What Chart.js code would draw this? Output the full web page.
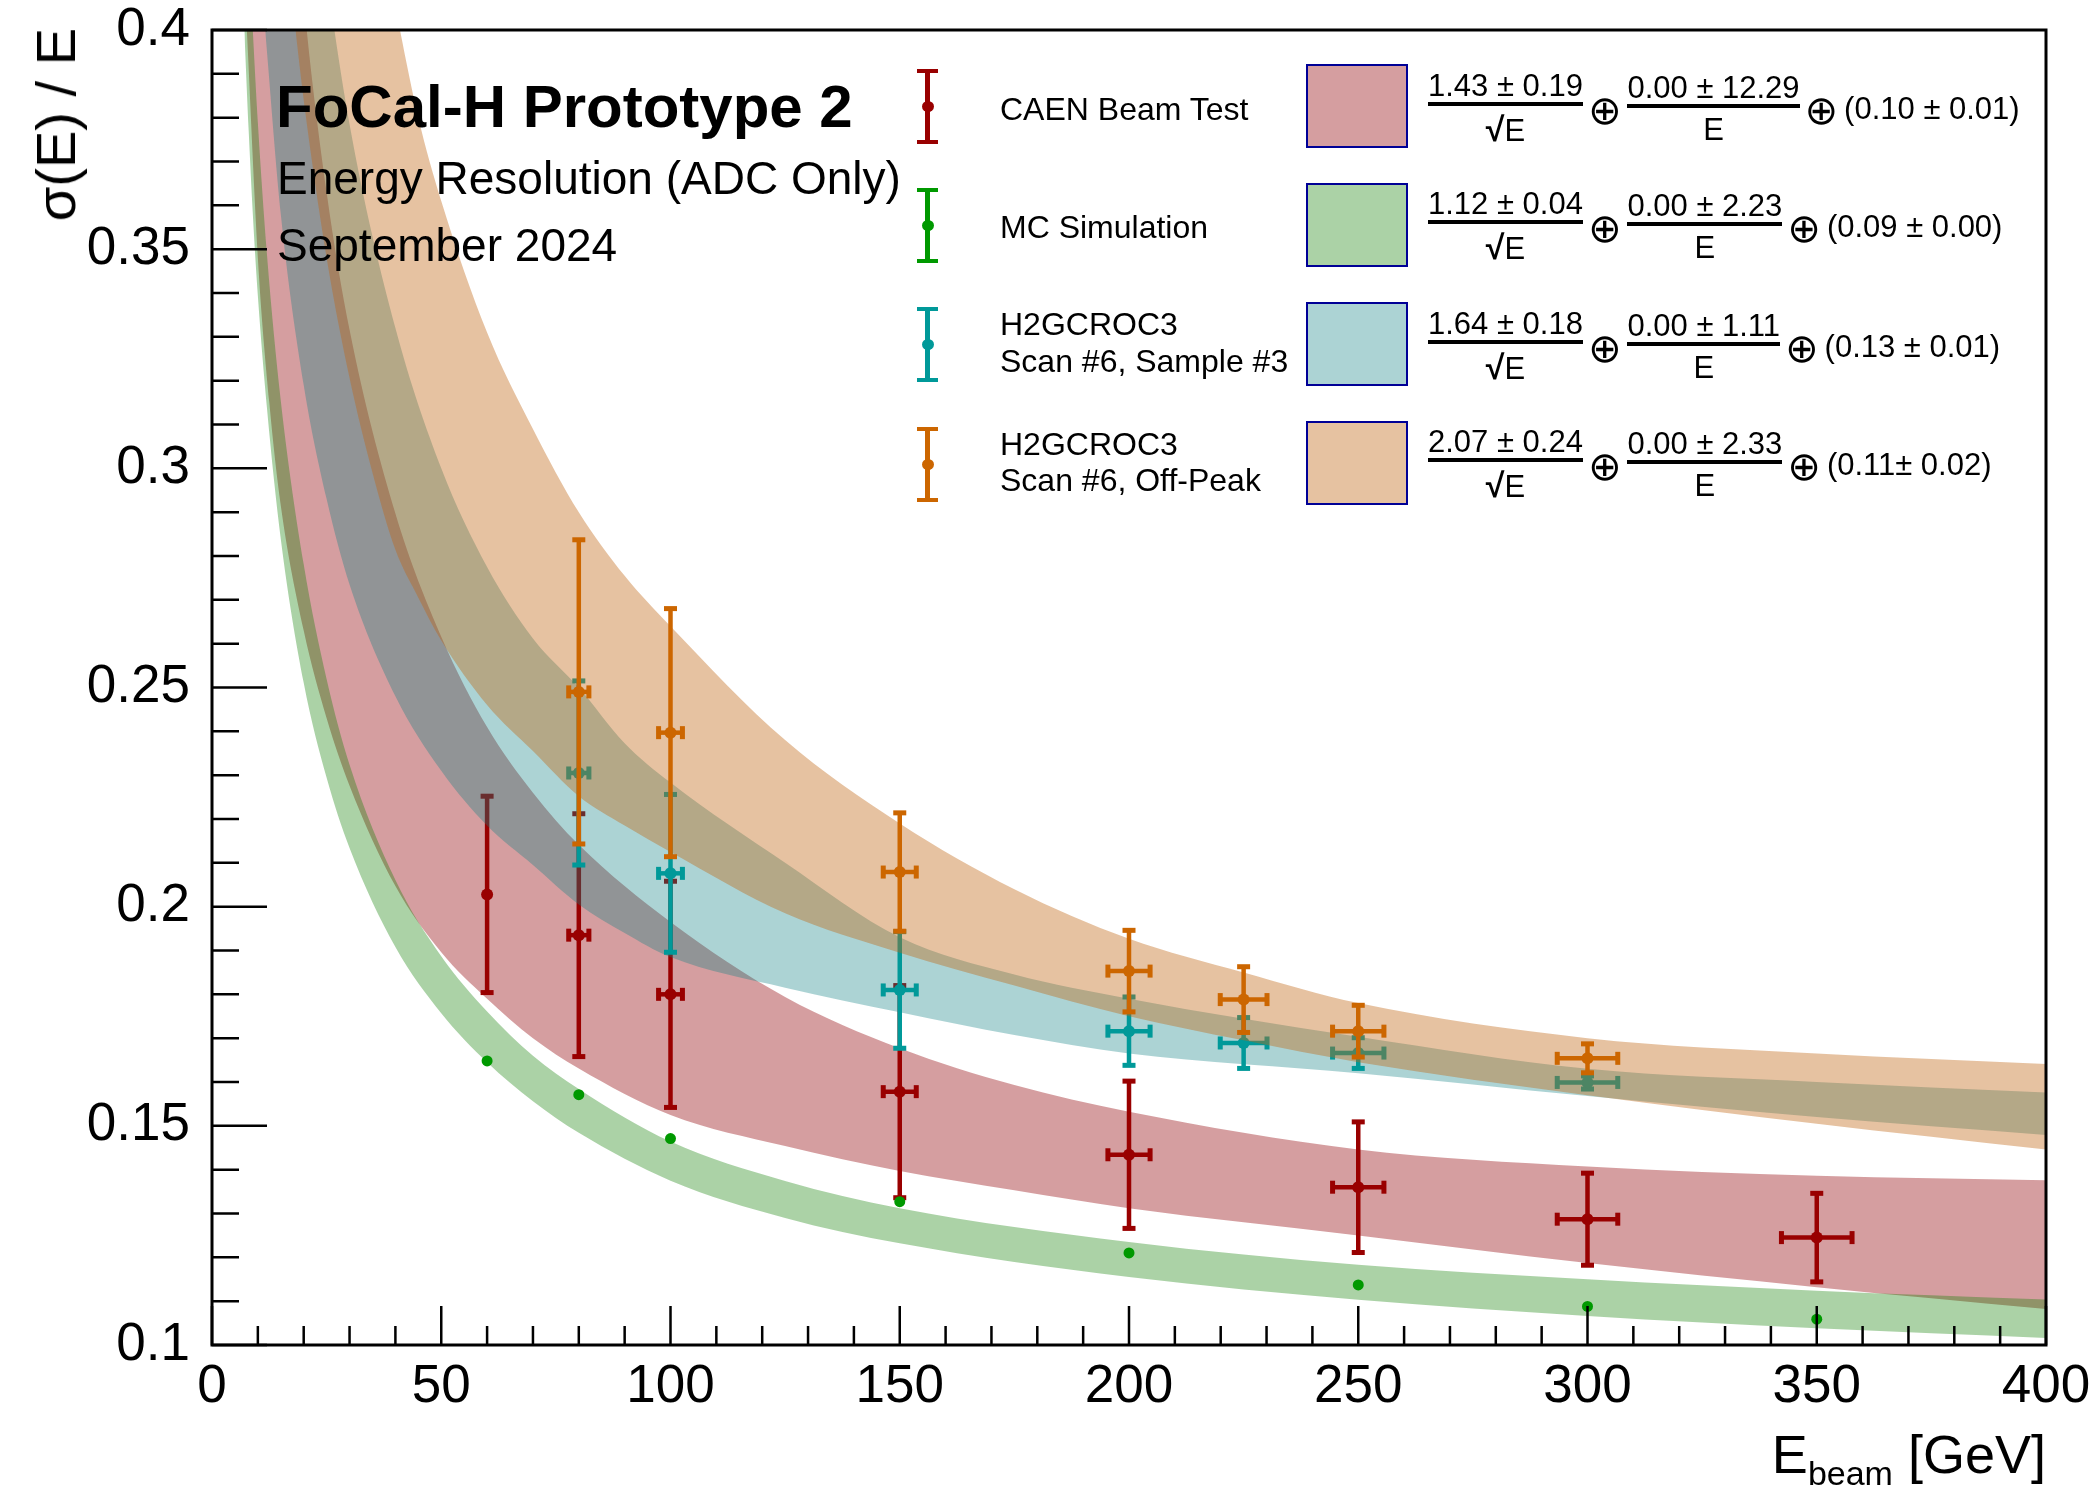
<!DOCTYPE html>
<html>
<head>
<meta charset="utf-8">
<title>FoCal-H Prototype 2 - Energy Resolution</title>
<script src="https://cdn.jsdelivr.net/npm/chart.js@4.4.1/dist/chart.umd.min.js"></script>
<style>
  body { margin: 0; background: #fff; }
  #wrap { position: relative; width: 2100px; height: 1489px; overflow: hidden;
          font-family: 'Liberation Sans', Arial, Helvetica, sans-serif; color: #000; }
  #chart { position: absolute; left: 0; top: 0; }
  .txt { position: absolute; white-space: nowrap; line-height: 1; }
  .ytitle { position: absolute; left: 28px; top: 28px; font-size: 56px; line-height: 1;
            writing-mode: vertical-rl; transform: rotate(180deg); white-space: nowrap; }
  .mark { position: absolute; width: 21px; height: 75px; }
  .mark .bar { position: absolute; left: 8px; top: 0; width: 5px; height: 75px; }
  .mark .cap { position: absolute; left: 0; width: 21px; height: 4px; }
  .mark .dot { position: absolute; left: 4.5px; top: 32px; width: 12px; height: 11px; border-radius: 50%; }
  .swatch { position: absolute; left: 1306px; width: 98px; height: 80px; border: 2.5px solid #000096; }
  .formula { position: absolute; left: 1428px; display: flex; align-items: center;
             font-size: 31px; line-height: 1; white-space: nowrap; }
  .frac { display: inline-flex; flex-direction: column; align-items: center; }
  .frac .num { border-bottom: 4px solid #000; padding-bottom: 1px; }
  .frac .den { margin-top: 6px; }
  .root { font-weight: bold; font-size: 34px; }
  .oplus { font-family: 'DejaVu Sans', sans-serif; font-size: 40px; margin: 0 6px 0 5px; position: relative; top: 2px; }
</style>
</head>
<body>
<div id="wrap">
  <canvas id="chart" width="2100" height="1489"></canvas>

  <div class="txt" style="left:276px; top:77px; font-size:60px; font-weight:bold;">FoCal-H Prototype 2</div>
  <div class="txt" style="left:277px; top:155px; font-size:46px;">Energy Resolution (ADC Only)</div>
  <div class="txt" style="left:277px; top:222px; font-size:46px;">September 2024</div>

  <div class="ytitle">σ(E) / E</div>
  <div class="txt" style="right:54px; top:1427px; font-size:54px;">E<span style="font-size:34px; position:relative; top:12px;">beam</span> [GeV]</div>

  <!-- legend markers -->
  <div class="mark" style="left:917px; top:69px;"><div class="bar" style="background:#990000"></div><div class="cap" style="top:0;background:#990000"></div><div class="cap" style="bottom:0;background:#990000"></div><div class="dot" style="background:#990000"></div></div>
  <div class="mark" style="left:917px; top:188px;"><div class="bar" style="background:#009900"></div><div class="cap" style="top:0;background:#009900"></div><div class="cap" style="bottom:0;background:#009900"></div><div class="dot" style="background:#009900"></div></div>
  <div class="mark" style="left:917px; top:307px;"><div class="bar" style="background:#009999"></div><div class="cap" style="top:0;background:#009999"></div><div class="cap" style="bottom:0;background:#009999"></div><div class="dot" style="background:#009999"></div></div>
  <div class="mark" style="left:917px; top:427px;"><div class="bar" style="background:#cc6600"></div><div class="cap" style="top:0;background:#cc6600"></div><div class="cap" style="bottom:0;background:#cc6600"></div><div class="dot" style="background:#cc6600"></div></div>

  <div class="txt" style="left:1000px; top:93px; font-size:32px;">CAEN Beam Test</div>
  <div class="txt" style="left:1000px; top:211px; font-size:32px;">MC Simulation</div>
  <div class="txt" style="left:1000px; top:308px; font-size:32px;">H2GCROC3</div>
  <div class="txt" style="left:1000px; top:345px; font-size:32px;">Scan #6, Sample #3</div>
  <div class="txt" style="left:1000px; top:428px; font-size:32px;">H2GCROC3</div>
  <div class="txt" style="left:1000px; top:464px; font-size:32px;">Scan #6, Off-Peak</div>

  <div class="swatch" style="top:64px; background:rgba(150,12,17,0.4);"></div>
  <div class="swatch" style="top:183px; background:rgba(15,126,0,0.35);"></div>
  <div class="swatch" style="top:302px; background:rgba(18,129,132,0.35);"></div>
  <div class="swatch" style="top:421px; background:rgba(192,102,20,0.4);"></div>

  <div class="formula" style="top:70px;">
    <span class="frac"><span class="num">1.43 ± 0.19</span><span class="den"><span class="root">√</span>E</span></span>
    <span class="oplus">⊕</span>
    <span class="frac"><span class="num">0.00 ± 12.29</span><span class="den">E</span></span>
    <span class="oplus">⊕</span>
    <span>(0.10 ± 0.01)</span>
  </div>
  <div class="formula" style="top:188px;">
    <span class="frac"><span class="num">1.12 ± 0.04</span><span class="den"><span class="root">√</span>E</span></span>
    <span class="oplus">⊕</span>
    <span class="frac"><span class="num">0.00 ± 2.23</span><span class="den">E</span></span>
    <span class="oplus">⊕</span>
    <span>(0.09 ± 0.00)</span>
  </div>
  <div class="formula" style="top:308px;">
    <span class="frac"><span class="num">1.64 ± 0.18</span><span class="den"><span class="root">√</span>E</span></span>
    <span class="oplus">⊕</span>
    <span class="frac"><span class="num">0.00 ± 1.11</span><span class="den">E</span></span>
    <span class="oplus">⊕</span>
    <span>(0.13 ± 0.01)</span>
  </div>
  <div class="formula" style="top:426px;">
    <span class="frac"><span class="num">2.07 ± 0.24</span><span class="den"><span class="root">√</span>E</span></span>
    <span class="oplus">⊕</span>
    <span class="frac"><span class="num">0.00 ± 2.33</span><span class="den">E</span></span>
    <span class="oplus">⊕</span>
    <span>(0.11± 0.02)</span>
  </div>
</div>

<script>
const FONT = "'Liberation Sans', Arial, Helvetica, sans-serif";

const xTickLabels = ['0', '50', '100', '150', '200', '250', '300', '350', '400'];
const yTickLabels = ['0.1', '0.15', '0.2', '0.25', '0.3', '0.35', '0.4'];

// measured points (E in GeV, sigma/E)
const caenE = [60, 80, 100, 150, 200, 250, 300, 350];
const caenRes = [0.2028, 0.1935, 0.1800, 0.1578, 0.1434, 0.1360, 0.1287, 0.1245];
const caenResErr = [0.0224, 0.0277, 0.0258, 0.0242, 0.0168, 0.0149, 0.0105, 0.0101];
const caenEErr = [0, 2.2, 2.6, 3.6, 4.6, 5.6, 6.6, 7.7];

const mcE = [60, 80, 100, 150, 200, 250, 300, 350];
const mcRes = [0.1648, 0.1571, 0.1471, 0.1327, 0.1210, 0.1137, 0.1088, 0.1059];

const sampleE = [80, 100, 150, 200, 225, 250, 300];
const sampleRes = [0.2305, 0.2076, 0.1810, 0.1716, 0.1689, 0.1666, 0.1599];
const sampleResErr = [0.0210, 0.0180, 0.0133, 0.0078, 0.0058, 0.0035, 0.0015];
const sampleEErr = [2.2, 2.6, 3.6, 4.6, 5.1, 5.6, 6.6];

const offPeakE = [80, 100, 150, 200, 225, 250, 300];
const offPeakRes = [0.2490, 0.2397, 0.2079, 0.1853, 0.1788, 0.1716, 0.1654];
const offPeakResErr = [0.0347, 0.0283, 0.0135, 0.0093, 0.0075, 0.0059, 0.0033];
const offPeakEErr = [2.2, 2.6, 3.6, 4.6, 5.1, 5.6, 6.6];

// fit bands, lower and upper edge
const caenBandE = [7.6, 10, 12.5, 15, 20, 25, 30, 40, 50, 60, 70, 80, 100, 125, 150, 175, 200, 250, 300, 350, 400];
const caenBandLow = [0.400, 0.348, 0.315, 0.2915, 0.263, 0.243, 0.2276, 0.2047, 0.1896, 0.179, 0.170, 0.1631, 0.1525, 0.1454, 0.1397, 0.1353, 0.1312, 0.125, 0.1187, 0.1132, 0.1082];
const caenBandHigh = [0.656, 0.578, 0.519, 0.4735, 0.407, 0.363, 0.3316, 0.2897, 0.2616, 0.241, 0.226, 0.2141, 0.1965, 0.1794, 0.1677, 0.1593, 0.1532, 0.1446, 0.1407, 0.1386, 0.1376];

const mcBandE = [7.05, 8, 8.9, 10, 12, 15, 20, 25, 30, 40, 50, 60, 70, 80, 100, 125, 150, 200, 250, 300, 350, 400];
const mcBandLow = [0.400, 0.377, 0.358, 0.3394, 0.3136, 0.2839, 0.2511, 0.2294, 0.2134, 0.1908, 0.1757, 0.1645, 0.1556, 0.1484, 0.1375, 0.1290, 0.1232, 0.1155, 0.1103, 0.1066, 0.1038, 0.1016];
const mcBandHigh = [0.445, 0.420, 0.400, 0.3789, 0.3486, 0.3154, 0.2781, 0.2519, 0.2324, 0.2061, 0.1887, 0.1761, 0.1660, 0.1584, 0.1464, 0.1374, 0.1312, 0.1235, 0.1183, 0.1150, 0.1124, 0.1104];

const sampleBandE = [11.6, 15, 20, 25, 30, 40, 50, 60, 70, 80, 90, 100, 125, 150, 175, 200, 250, 300, 350, 400];
const sampleBandLow = [0.400, 0.358, 0.319, 0.293, 0.2735, 0.248, 0.231, 0.2185, 0.2095, 0.2005, 0.194, 0.1885, 0.1815, 0.1759, 0.1707, 0.1665, 0.162, 0.1568, 0.152, 0.1479];
const sampleBandHigh = [0.598, 0.528, 0.459, 0.413, 0.3785, 0.332, 0.300, 0.2775, 0.2612, 0.250, 0.2373, 0.2283, 0.210, 0.193, 0.1845, 0.179, 0.1703, 0.163, 0.160, 0.1576];

const offPeakBandE = [18.2, 20, 25, 30, 35, 40, 45, 50, 60, 70, 80, 90, 100, 125, 150, 175, 200, 225, 250, 300, 350, 400];
const offPeakBandLow = [0.400, 0.384, 0.348, 0.3206, 0.299, 0.2814, 0.2705, 0.2607, 0.246, 0.2355, 0.2252, 0.2185, 0.2125, 0.1985, 0.1895, 0.182, 0.175, 0.1695, 0.1645, 0.157, 0.1505, 0.1446];
const offPeakBandHigh = [0.595, 0.568, 0.508, 0.4666, 0.4328, 0.4053, 0.380, 0.361, 0.331, 0.309, 0.290, 0.2755, 0.264, 0.238, 0.219, 0.204, 0.1927, 0.185, 0.178, 0.170, 0.1665, 0.1641];

const toXY = (xs, ys) => xs.map((x, i) => ({ x, y: ys[i] }));

const datasets = [];

function addBand(es, lo, hi, fillColor, order) {
    const common = {
        borderWidth: 0,
        borderColor: 'rgba(0,0,0,0)',
        pointRadius: 0,
        cubicInterpolationMode: 'monotone',
        capBezierPoints: false,
    };
    datasets.push({ ...common, data: toXY(es, lo), fill: false, order: order + 1 });
    datasets.push({ ...common, data: toXY(es, hi), fill: '-1', backgroundColor: fillColor, order });
}

function addPoints(es, res, resErr, eErr, color, radius, order) {
    datasets.push({
        data: toXY(es, res),
        showLine: false,
        pointRadius: radius,
        pointBorderWidth: 0,
        pointBackgroundColor: color,
        barColor: color,
        errY: resErr,
        errX: eErr,
        order,
    });
}

// ROOT draw order: red, green, teal, orange (each band then its points)
addBand(caenBandE, caenBandLow, caenBandHigh, 'rgba(150,12,17,0.4)', 100);
addPoints(caenE, caenRes, caenResErr, caenEErr, '#990000', 6, 98);
addBand(mcBandE, mcBandLow, mcBandHigh, 'rgba(15,126,0,0.35)', 96);
addPoints(mcE, mcRes, null, null, '#009900', 5.5, 94);
addBand(sampleBandE, sampleBandLow, sampleBandHigh, 'rgba(18,129,132,0.35)', 92);
addPoints(sampleE, sampleRes, sampleResErr, sampleEErr, '#009999', 6, 90);
addBand(offPeakBandE, offPeakBandLow, offPeakBandHigh, 'rgba(192,102,20,0.4)', 88);
addPoints(offPeakE, offPeakRes, offPeakResErr, offPeakEErr, '#cc6600', 6, 86);

// error bars with end caps, drawn just before the markers of the same graph
const errorBars = {
    id: 'errorBars',
    beforeDatasetDraw(chart, args) {
        const ds = chart.data.datasets[args.index];
        if (!ds.errY) return;
        const { ctx, scales: { x, y } } = chart;
        ctx.save();
        ctx.strokeStyle = ds.barColor;
        ctx.fillStyle = ds.barColor;
        ctx.lineWidth = 4.5;
        ds.data.forEach((p, i) => {
            const px = x.getPixelForValue(p.x);
            const py = y.getPixelForValue(p.y);
            const ey = ds.errY[i];
            const ex = ds.errX[i];
            if (ey > 0) {
                const top = y.getPixelForValue(p.y + ey);
                const bot = y.getPixelForValue(p.y - ey);
                ctx.beginPath();
                ctx.moveTo(px, top);
                ctx.lineTo(px, bot);
                ctx.stroke();
                ctx.fillRect(px - 6.5, top - 2.5, 13, 5);
                ctx.fillRect(px - 6.5, bot - 2.5, 13, 5);
            }
            if (ex > 0) {
                const l = x.getPixelForValue(p.x - ex);
                const r = x.getPixelForValue(p.x + ex);
                ctx.beginPath();
                ctx.moveTo(l, py);
                ctx.lineTo(r, py);
                ctx.stroke();
                ctx.fillRect(l - 2.5, py - 6.5, 5, 13);
                ctx.fillRect(r - 2.5, py - 6.5, 5, 13);
            }
        });
        ctx.restore();
    }
};

// ROOT style frame with ticks pointing inwards
const rootFrame = {
    id: 'rootFrame',
    afterDraw(chart) {
        const { ctx, chartArea: a, scales: { x, y } } = chart;
        ctx.save();
        ctx.strokeStyle = '#000';
        ctx.lineWidth = 2.5;
        ctx.beginPath();
        for (let k = 0; k <= 40; k++) {
            const px = x.getPixelForValue(k * 10);
            const len = k % 5 === 0 ? 39 : 19;
            ctx.moveTo(px, a.bottom);
            ctx.lineTo(px, a.bottom - len);
        }
        for (let k = 10; k <= 40; k++) {
            const py = y.getPixelForValue(k / 100);
            const len = k % 5 === 0 ? 55 : 27;
            ctx.moveTo(a.left, py);
            ctx.lineTo(a.left + len, py);
        }
        ctx.stroke();
        ctx.lineWidth = 3;
        ctx.strokeRect(a.left, a.top, a.right - a.left, a.bottom - a.top);
        ctx.restore();
    }
};

new Chart(document.getElementById('chart'), {
    type: 'line',
    data: { datasets },
    options: {
        responsive: false,
        animation: false,
        devicePixelRatio: 1,
        events: [],
        layout: { padding: { left: 0, right: 54, top: 30, bottom: 0 } },
        plugins: { legend: { display: false }, tooltip: { enabled: false } },
        scales: {
            x: {
                type: 'linear',
                min: 0,
                max: 400,
                grid: { display: false },
                border: { display: false },
                ticks: {
                    stepSize: 50,
                    autoSkip: false,
                    maxRotation: 0,
                    padding: 3,
                    color: '#000',
                    font: { family: FONT, size: 53 },
                    callback: (v, i) => xTickLabels[i],
                },
                afterFit: (s) => { s.height = 144; s.paddingLeft = 0; s.paddingRight = 0; },
            },
            y: {
                type: 'linear',
                min: 0.1,
                max: 0.4,
                grid: { display: false },
                border: { display: false },
                ticks: {
                    stepSize: 0.05,
                    padding: 14,
                    color: '#000',
                    font: { family: FONT, size: 53 },
                    callback: (v, i) => yTickLabels[i],
                },
                afterFit: (s) => { s.width = 212; s.paddingTop = 0; s.paddingBottom = 0; },
            },
        },
    },
    plugins: [errorBars, rootFrame],
});
</script>
</body>
</html>
